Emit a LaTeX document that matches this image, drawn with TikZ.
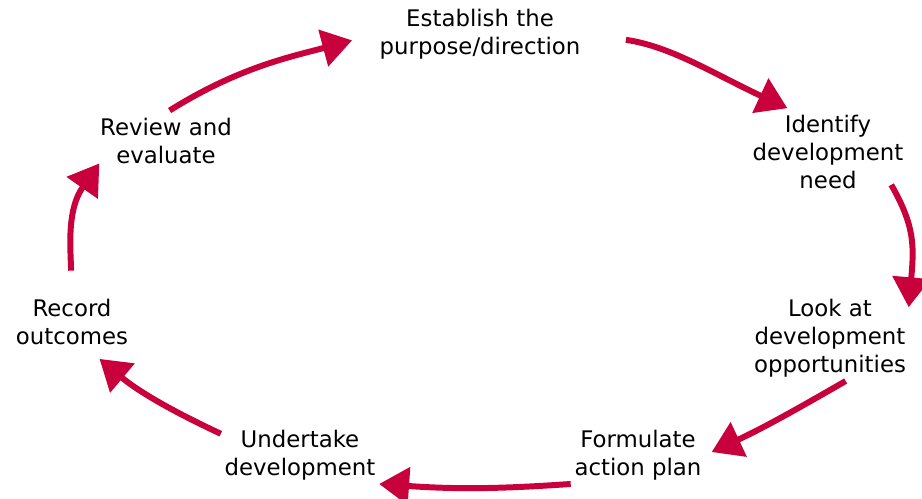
\documentclass[tikz,border=0pt]{standalone}
\usepackage{fontspec}
\setmainfont{DejaVu Sans}
\usepackage{tikz}
\usetikzlibrary{arrows.meta,calc}
\definecolor{cyclered}{RGB}{200,0,60}

\begin{document}
\begin{tikzpicture}[x=0.02cm, y=0.02cm,
	stage/.style={align=center, inner sep=2pt, font=\fontsize{13}{16}\selectfont},
	cyc/.style={draw=cyclered, line width=3.4pt, -{Triangle[length=17pt,width=21pt]}}]
	\useasboundingbox (0,0) rectangle (922,-499);
	\node[stage] (establish) at (480,-34) {Establish the\\purpose/direction};
	\node[stage] (identify) at (828,-152) {Identify\\development\\need};
	\node[stage] (look) at (830,-338) {Look at\\development\\opportunities};
	\node[stage] (formulate) at (638,-455) {Formulate\\action plan};
	\node[stage] (undertake) at (300,-455) {Undertake\\development};
	\node[stage] (record) at (72,-322) {Record\\outcomes};
	\node[stage] (review) at (166,-141) {Review and\\evaluate};
	\draw[cyc, shorten <=4pt, shorten >=14pt] (review.95) to [out=32, in=195] (establish.west);
	\draw[cyc, shorten <=24pt, shorten >=4pt] (establish.east) to [out=-8, in=155] (identify.130);
	\draw[cyc, shorten >=-7pt] ($(identify.south east)+(-16,8)$) to [out=-60, in=85, looseness=1.1] (look.north east);
	\draw[cyc, shorten >=4pt] (look.-70) to [out=-150, in=25] (formulate.east);
	\draw[cyc, shorten >=0pt] (formulate.south west) to [bend left=4] (undertake.south east);
	\draw[cyc, shorten >=9pt] (undertake.165) to [out=155, in=-40] (record.-60);
	\draw[cyc, shorten <=14pt, shorten >=-3pt] (record.north) to [out=92, in=-125] (review.south west);
\end{tikzpicture}
\end{document}
